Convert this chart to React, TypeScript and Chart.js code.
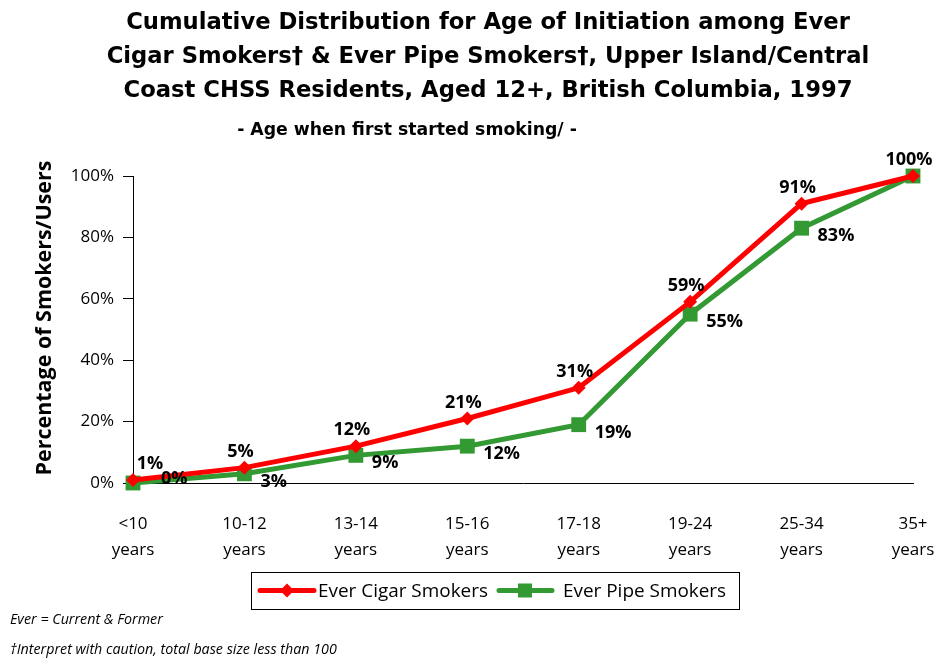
import React, { useEffect, useRef } from "react";
import { Chart, registerables } from "chart.js";
Chart.register(...registerables);

const titleLines = [
  "Cumulative Distribution for Age of Initiation among Ever",
  "Cigar Smokers\u2020 & Ever Pipe Smokers\u2020, Upper Island/Central",
  "Coast CHSS Residents, Aged 12+, British Columbia, 1997",
];
const subtitle = "- Age when first started smoking/ -";
const yTitle = "Percentage of Smokers/Users";
const categories = [
  ["<10", "years"],
  ["10-12", "years"],
  ["13-14", "years"],
  ["15-16", "years"],
  ["17-18", "years"],
  ["19-24", "years"],
  ["25-34", "years"],
  ["35+", "years"],
];
const cigarLabel = "Ever Cigar Smokers";
const pipeLabel = "Ever Pipe Smokers";
const cigar = [1, 5, 12, 21, 31, 59, 91, 100];
const pipe = [0, 3, 9, 12, 19, 55, 83, 100];
const yTickValues = [0, 20, 40, 60, 80, 100];
const footnotes = ["Ever = Current & Former", "\u2020Interpret with caution, total base size less than 100"];

const RED = "#ff0000";
const GREEN = "#339933";
const FONT = "'Open Sans', 'DejaVu Sans', sans-serif";
const TITLE_FONT = "'DejaVu Sans', sans-serif";

function fitFont(ctx: CanvasRenderingContext2D, text: string, style: string, family: string, target: number) {
  ctx.font = `${style} 20px ${family}`;
  const w = ctx.measureText(text).width;
  const size = (20 * target) / w;
  return `${style} ${size.toFixed(2)}px ${family}`;
}

const overlay = {
  id: "overlay",
  afterDraw(chart: any) {
    const ctx = chart.ctx as CanvasRenderingContext2D;
    ctx.save();
    ctx.fillStyle = "#000";
    // Title
    ctx.font = fitFont(ctx, titleLines[1], "bold", TITLE_FONT, 763);
    ctx.textAlign = "center";
    ctx.textBaseline = "middle";
    titleLines.forEach((t, i) => ctx.fillText(t, 488, 23 + i * 34));
    ctx.font = fitFont(ctx, subtitle, "bold", TITLE_FONT, 340);
    ctx.fillText(subtitle, 407, 131);

    // Y axis title
    ctx.save();
    ctx.translate(45, 318);
    ctx.rotate(-Math.PI / 2);
    ctx.font = fitFont(ctx, yTitle, "bold", FONT, 315);
    ctx.fillText(yTitle, 0, 0);
    ctx.restore();

    // Data labels
    ctx.font = `bold 18px ${FONT}`;
    const m0 = chart.getDatasetMeta(0).data;
    const m1 = chart.getDatasetMeta(1).data;
    ctx.textAlign = "center";
    ctx.textBaseline = "bottom";
    cigar.forEach((v, i) => {
      const p = m0[i];
      ctx.fillText(v + "%", p.x - 4 + (i === 0 ? 21 : 0), p.y - 7);
    });
    ctx.textAlign = "left";
    ctx.textBaseline = "middle";
    pipe.forEach((v, i) => {
      if (v === cigar[i] && i === pipe.length - 1) return;
      const p = m1[i];
      ctx.fillText(v + "%", p.x + 16 + (i === 0 ? 12 : 0), p.y + 8 - (i === 0 ? 12 : 0));
    });

    // Legend box
    const lx = 251, ly = 572, lw = 488, lh = 37;
    ctx.strokeStyle = "#000";
    ctx.lineWidth = 1;
    ctx.strokeRect(lx + 0.5, ly + 0.5, lw, lh);
    const cy = ly + lh / 2;
    ctx.lineCap = "round";
    ctx.lineWidth = 5;
    ctx.strokeStyle = RED;
    ctx.beginPath();
    ctx.moveTo(260, cy);
    ctx.lineTo(314, cy);
    ctx.stroke();
    ctx.fillStyle = RED;
    ctx.beginPath();
    ctx.moveTo(287, cy - 7);
    ctx.lineTo(294, cy);
    ctx.lineTo(287, cy + 7);
    ctx.lineTo(280, cy);
    ctx.closePath();
    ctx.fill();
    ctx.strokeStyle = GREEN;
    ctx.beginPath();
    ctx.moveTo(499, cy);
    ctx.lineTo(552, cy);
    ctx.stroke();
    ctx.fillStyle = GREEN;
    ctx.fillRect(518, cy - 7, 14, 14);
    ctx.fillStyle = "#000";
    ctx.textAlign = "left";
    ctx.textBaseline = "middle";
    ctx.font = fitFont(ctx, cigarLabel, "", FONT, 170);
    ctx.fillText(cigarLabel, 318, cy + 1);
    ctx.fillText(pipeLabel, 563, cy + 1);

    // Footnotes
    ctx.font = fitFont(ctx, footnotes[0], "italic", FONT, 153);
    ctx.fillText(footnotes[0], 10, 620);
    ctx.fillText(footnotes[1], 10, 650);
    ctx.restore();
  },
};

export default function App() {
  const ref = useRef<HTMLCanvasElement>(null);
  useEffect(() => {
    if (!ref.current) return;
    const chart = new Chart(ref.current, {
      type: "line",
      data: {
        labels: categories as any,
        datasets: [
          {
            label: cigarLabel,
            data: cigar,
            borderColor: RED,
            backgroundColor: RED,
            borderWidth: 5,
            pointStyle: "rectRot",
            pointRadius: 7,
            pointBorderWidth: 0,
            clip: false as any,
          },
          {
            label: pipeLabel,
            data: pipe,
            borderColor: GREEN,
            backgroundColor: GREEN,
            borderWidth: 5,
            pointStyle: "rect",
            pointRadius: 10.5,
            pointBorderWidth: 0,
            clip: false as any,
          },
        ],
      },
      options: {
        responsive: false,
        animation: false,
        layout: { padding: { left: 0, right: 24, top: 176, bottom: 95 } },
        plugins: { legend: { display: false }, title: { display: false }, tooltip: { enabled: false } },
        scales: {
          x: {
            offset: false,
            grid: { display: false },
            border: { display: true, color: "#000", width: 1 },
            ticks: {
              color: "#000",
              font: { family: FONT, size: 17, lineHeight: 1.55 },
              padding: 20,
              maxRotation: 0,
              autoSkip: false,
            },
            afterFit: (s: any) => {
              s.height = 80;
              s.paddingLeft = 0;
              s.paddingRight = 0;
            },
          },
          y: {
            min: 0,
            max: 100,
            afterBuildTicks: (s: any) => {
              s.ticks = yTickValues.map((v) => ({ value: v }));
            },
            grid: { display: true, drawOnChartArea: false, drawTicks: true, tickLength: 10, color: "#000" },
            border: { display: true, color: "#000", width: 1 },
            ticks: {
              color: "#000",
              font: { family: FONT, size: 17 },
              padding: 9,
              callback: (v: any) => v + "%",
            },
            afterFit: (s: any) => {
              s.width = 133;
              s.paddingTop = 0;
              s.paddingBottom = 0;
            },
          },
        },
      },
      plugins: [overlay],
    });
    return () => chart.destroy();
  }, []);
  return (
    <div style={{ position: "absolute", left: 0, top: 0, width: 937, height: 658, background: "#fff" }}>
      <canvas ref={ref} width={937} height={658} />
    </div>
  );
}
